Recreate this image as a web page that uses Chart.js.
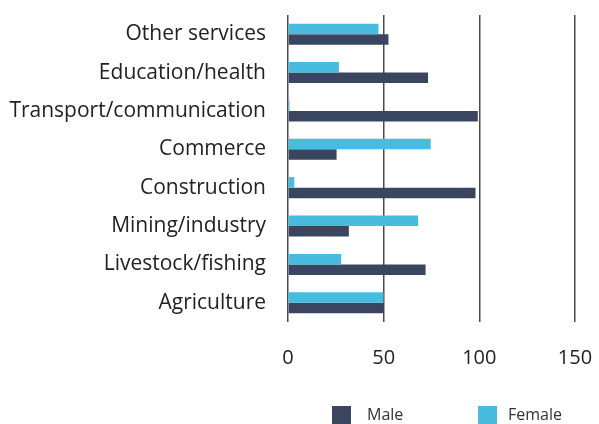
<!DOCTYPE html>
<html>
<head>
<meta charset="utf-8">
<script src="https://cdn.jsdelivr.net/npm/chart.js@4"></script>
<style>
    html, body { margin: 0; padding: 0; background: #ffffff; }
    #wrap { width: 599px; height: 424px; position: relative; }
</style>
</head>
<body>
<div id="wrap"><canvas id="main-chart"></canvas></div>
<script>
const sectors = ["Other services", "Education/health", "Transport/communication", "Commerce",
    "Construction", "Mining/industry", "Livestock/fishing", "Agriculture"];
const female_values = [47.3, 26.6, 0.8, 74.6, 3.3, 68, 27.8, 49.9];
const male_values = [52.5, 73.2, 99.2, 25.4, 98, 31.8, 71.9, 50];
const x_ticks = [0, 50, 100, 150];

const male_color = "#3A465F";
const female_color = "#48BCDE";
const font_family = "'Open Sans', 'Noto Sans', sans-serif";

// legend drawn by hand, sits right of centre like the original
const legendPlugin = {
    id: "bottomLegend",
    afterDraw(chart) {
        const ctx = chart.ctx;
        const items = [
            { label: "Male", color: male_color, x: 332, tx: 367 },
            { label: "Female", color: female_color, x: 478, tx: 508 }
        ];
        ctx.save();
        ctx.font = "16px " + font_family;
        ctx.textBaseline = "middle";
        ctx.textAlign = "left";
        items.forEach((it) => {
            ctx.fillStyle = it.color;
            ctx.fillRect(it.x, 406, 19, 19);
            ctx.fillStyle = "#333333";
            ctx.fillText(it.label, it.tx, 415);
        });
        ctx.restore();
    }
};

const data = {
    labels: sectors,
    datasets: [
        {
            label: "Female",
            data: female_values,
            backgroundColor: female_color,
            categoryPercentage: 0.55,
            barPercentage: 1.0
        },
        {
            label: "Male",
            data: male_values,
            backgroundColor: male_color,
            categoryPercentage: 0.55,
            barPercentage: 1.0
        }
    ]
};

const config = {
    type: "bar",
    data: data,
    options: {
        indexAxis: "y",
        responsive: false,
        animation: false,
        layout: {
            padding: { top: 15, right: 24, bottom: 52, left: 0 }
        },
        plugins: {
            legend: { display: false },
            tooltip: { enabled: false }
        },
        scales: {
            x: {
                min: 0,
                max: 150,
                afterBuildTicks: (scale) => {
                    scale.ticks = x_ticks.map((v) => ({ value: v }));
                },
                grid: {
                    color: "#4a4a4a",
                    lineWidth: 1.5,
                    drawTicks: false
                },
                border: { display: false },
                ticks: {
                    padding: 24,
                    color: "#222222",
                    font: { family: font_family, size: 20 }
                },
                afterFit: (scale) => {
                    scale.height = 50;
                    // keep tick padding from eating into the plot area
                    scale.paddingLeft = 0;
                    scale.paddingRight = 0;
                }
            },
            y: {
                grid: { display: false, drawTicks: false },
                border: { display: false },
                ticks: {
                    padding: 22,
                    color: "#222222",
                    font: { family: font_family, size: 21 }
                },
                afterFit: (scale) => {
                    scale.width = 288;
                    scale.paddingTop = 0;
                    scale.paddingBottom = 0;
                }
            }
        }
    },
    plugins: [legendPlugin]
};

const canvas = document.getElementById("main-chart");
canvas.width = 599;
canvas.height = 424;
new Chart(canvas.getContext("2d"), config);
</script>
</body>
</html>
